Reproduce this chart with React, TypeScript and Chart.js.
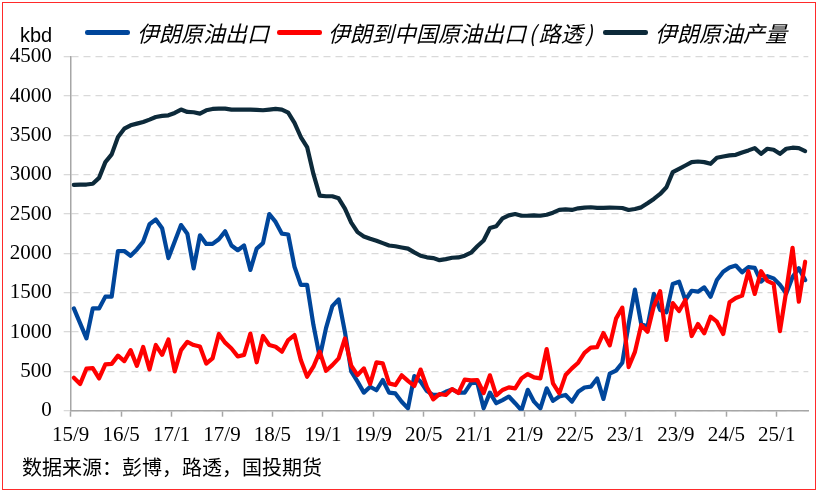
import React, { useEffect, useRef } from "react";
import { Chart, registerables } from "chart.js";

Chart.register(...registerables);

// Months from 2015-09 to 2025-05 (117 monthly observations)
const START_YEAR = 2015;
const START_MONTH = 9;
const MONTH_COUNT = 117;
const months: string[] = [];
for (let k = 0; k < MONTH_COUNT; k++) {
  const m = START_MONTH - 1 + k;
  const y = START_YEAR + Math.floor(m / 12);
  months.push(`${String(y).slice(2)}/${(m % 12) + 1}`);
}

// Tick labels shown on the x axis (every 8 months)
const xTickLabels = ["15/9", "16/5", "17/1", "17/9", "18/5", "19/1", "19/9", "20/5", "21/1", "21/9", "22/5", "23/1", "23/9", "24/5", "25/1"];
const yTickValues = [0, 500, 1000, 1500, 2000, 2500, 3000, 3500, 4000, 4500];

// 伊朗原油出口 (kbd)
const iranExports = [
  1300, 1110, 920, 1300, 1300, 1450, 1450, 2030, 2030, 1970,
  2050, 2150, 2370, 2430, 2320, 1940, 2150, 2360, 2250, 1810,
  2230, 2120, 2120, 2180, 2280, 2100, 2040, 2100, 1790, 2060,
  2130, 2500, 2400, 2250, 2240, 1830, 1600, 1600, 1090, 680,
  1050, 1330, 1415, 1000, 500, 370, 230, 305, 260, 390,
  230, 220, 114, 30, 440, 370, 250, 200, 200, 240,
  270, 230, 230, 350, 355, 30, 230, 95, 135, 180,
  95, 5, 265, 115, 30, 285, 125, 180, 200, 115,
  240, 295, 305, 410, 150, 470, 510, 610, 1100, 1540,
  1100, 1070, 1485, 1280, 1250, 1610, 1640, 1407, 1525, 1513,
  1568, 1449, 1661, 1767, 1820, 1845, 1760, 1825, 1815, 1640,
  1710, 1682, 1600, 1490, 1700, 1810, 1660,
];

// 伊朗到中国原油出口(路透) (kbd)
const iranToChina = [
  420, 340, 535, 540, 410, 590, 595, 700, 630, 770,
  570, 810, 525, 835, 710, 905, 500, 770, 875, 835,
  815, 600, 665, 975, 865, 790, 690, 710, 980, 615,
  950, 835, 813, 750, 898, 962, 644, 432, 559, 750,
  508, 580, 665, 919, 572, 453, 538, 339, 614, 602,
  347, 326, 450, 380, 315, 523, 300, 145, 212, 200,
  275, 225, 395, 385, 390, 225, 450, 195, 263, 297,
  284, 411, 466, 424, 411, 784, 347, 220, 453, 538,
  610, 735, 802, 808, 987, 830, 1170, 1310, 555, 748,
  1090, 1004, 1330, 1518, 900, 1368, 1267, 1407, 949, 1102,
  983, 1195, 1131, 975, 1378, 1433, 1463, 1773, 1484, 1773,
  1650, 1613, 1012, 1520, 2070, 1385, 1894,
];

// 伊朗原油产量 (kbd)
const iranProduction = [
  2870, 2875, 2875, 2885, 2960, 3160, 3258, 3479, 3585, 3628,
  3649, 3670, 3700, 3734, 3747, 3755, 3785, 3828, 3798, 3794,
  3777, 3819, 3836, 3840, 3840, 3828, 3828, 3828, 3828, 3824,
  3819, 3828, 3836, 3828, 3790, 3660, 3479, 3351, 3010, 2734,
  2726, 2726, 2700, 2570, 2390, 2270, 2215, 2185, 2160, 2130,
  2100, 2090, 2075, 2060, 2013, 1970, 1950, 1940, 1914, 1927,
  1944, 1948, 1970, 2009, 2090, 2164, 2323, 2345, 2444, 2483,
  2500, 2478, 2478, 2483, 2478, 2491, 2517, 2552, 2560, 2552,
  2573, 2582, 2586, 2578, 2578, 2582, 2580, 2577, 2551, 2564,
  2585, 2636, 2692, 2755, 2840, 3032, 3075, 3117, 3160, 3168,
  3160, 3138, 3215, 3232, 3245, 3253, 3283, 3309, 3338, 3266,
  3330, 3317, 3266, 3330, 3343, 3338, 3300,
];

const seriesNames = ["伊朗原油出口", "伊朗到中国原油出口(路透)", "伊朗原油产量"];
const seriesColors = ["#00469b", "#ff0000", "#0d2a3a"];

const SERIF = '"Liberation Serif", "Times New Roman", serif';
const CJK = '"Noto Sans CJK SC", "Noto Sans", sans-serif';

// monthly values plotted mid-month on a month-index axis
const toPoints = (vals: number[]) => vals.map((v, i) => ({ x: i + 0.5, y: v }));

const lineDataset = (idx: number, vals: number[], order: number) => ({
  label: seriesNames[idx],
  data: toPoints(vals),
  borderColor: seriesColors[idx],
  backgroundColor: seriesColors[idx],
  borderWidth: 4.2,
  pointRadius: 0,
  tension: 0,
  borderJoinStyle: "round" as const,
  borderCapStyle: "round" as const,
  order,
});

// render "(" and ")" with a little extra room, as in the reference legend
const spacedLabel = (s: string) =>
  s.split(/([()])/).map((part, i) =>
    part === "(" || part === ")" ? (
      <span key={i} style={{ padding: "0 2.6px" }}>
        {part}
      </span>
    ) : (
      <span key={i}>{part}</span>
    )
  );

export default function App() {
  const canvasRef = useRef<HTMLCanvasElement | null>(null);

  useEffect(() => {
    document.body.style.margin = "0";
    const canvas = canvasRef.current;
    if (!canvas) return;
    const tickPositions = xTickLabels.map((lab) => months.indexOf(lab));
    const chart = new Chart(canvas, {
      type: "line",
      data: {
        datasets: [
          lineDataset(0, iranExports, 2),
          lineDataset(1, iranToChina, 1),
          lineDataset(2, iranProduction, 3),
        ],
      },
      options: {
        responsive: false,
        animation: false,
        devicePixelRatio: 1,
        layout: { padding: { top: 56.7, right: 13.7, left: 0, bottom: 0 } },
        plugins: { legend: { display: false }, tooltip: { enabled: false }, title: { display: false } },
        scales: {
          x: {
            type: "linear",
            min: 0,
            max: MONTH_COUNT,
            afterFit: (s: any) => {
              s.height = 84.3;
            },
            afterBuildTicks: (s: any) => {
              s.ticks = tickPositions.map((v) => ({ value: v }));
            },
            ticks: {
              autoSkip: false,
              maxRotation: 0,
              minRotation: 0,
              padding: 6,
              color: "#000",
              font: { family: SERIF, size: 21 },
              callback: (v: any) => months[Math.round(Number(v))],
            },
            grid: {
              display: true,
              drawOnChartArea: false,
              drawTicks: true,
              tickLength: 6,
              tickColor: "#a6a6a6",
              tickWidth: 1.5,
            },
            border: { display: true, color: "#a6a6a6", width: 1.5 },
          },
          y: {
            min: 0,
            max: 4500,
            afterFit: (s: any) => {
              s.width = 70.7;
            },
            afterBuildTicks: (s: any) => {
              s.ticks = yTickValues.map((v) => ({ value: v }));
            },
            ticks: {
              padding: 12,
              color: "#000",
              font: { family: SERIF, size: 21 },
              callback: (v: any) => String(v),
            },
            grid: {
              color: "#d9d9d9",
              lineWidth: 1.3,
              tickLength: 7,
              tickColor: "#d9d9d9",
            },
            border: { display: true, color: "#a6a6a6", width: 1.5, dash: [7, 5] },
          },
        },
      },
    });
    return () => chart.destroy();
  }, []);

  const legendLine = (left: number, color: string): React.CSSProperties => ({
    position: "absolute",
    left,
    top: 30,
    width: 45,
    height: 4.5,
    borderRadius: 2.25,
    background: color,
  });
  const legendText = (left: number): React.CSSProperties => ({
    position: "absolute",
    left,
    top: 21,
    fontFamily: CJK,
    fontSize: 22,
    lineHeight: "22px",
    fontStyle: "italic",
    color: "#000",
    whiteSpace: "nowrap",
  });

  return (
    <div style={{ position: "relative", width: 822, height: 495, overflow: "hidden", background: "#fff" }}>
      <canvas ref={canvasRef} width={822} height={495} style={{ position: "absolute", left: 0, top: 0, width: 822, height: 495 }} />
      <div
        style={{
          position: "absolute",
          left: 2,
          top: 2,
          width: 814,
          height: 488,
          boxSizing: "border-box",
          border: "1.5px solid #ff2a2a",
          pointerEvents: "none",
        }}
      />
      <div
        style={{
          position: "absolute",
          left: 20,
          top: 24.8,
          fontFamily: '"Liberation Sans", Arial, sans-serif',
          fontSize: 20,
          lineHeight: "20px",
          color: "#000",
        }}
      >
        kbd
      </div>
      <div style={legendLine(85, seriesColors[0])} />
      <div style={legendText(137)}>{seriesNames[0]}</div>
      <div style={legendLine(277, seriesColors[1])} />
      <div style={legendText(328)}>{spacedLabel(seriesNames[1])}</div>
      <div style={legendLine(603, seriesColors[2])} />
      <div style={legendText(655)}>{seriesNames[2]}</div>
      <div
        style={{
          position: "absolute",
          left: 22,
          top: 457,
          fontFamily: CJK,
          fontSize: 20,
          lineHeight: "20px",
          color: "#000",
          whiteSpace: "nowrap",
        }}
      >
        数据来源：彭博，路透，国投期货
      </div>
    </div>
  );
}
